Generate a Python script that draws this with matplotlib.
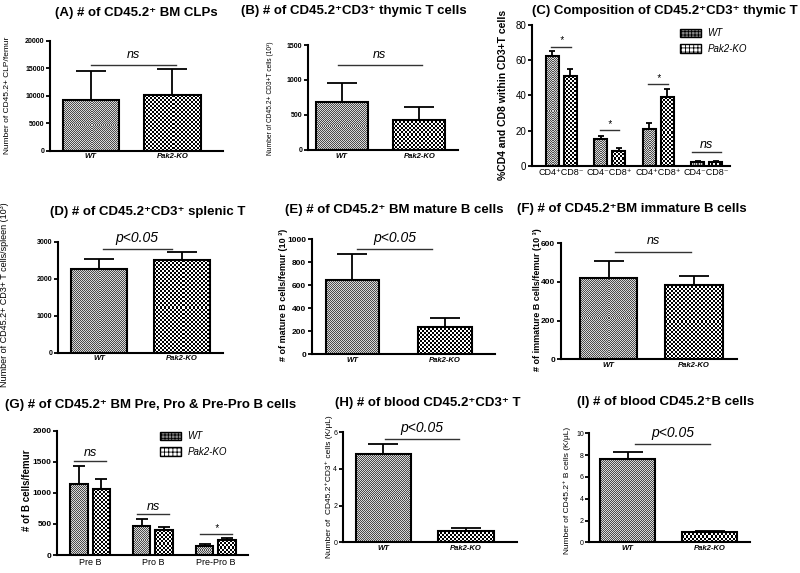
import matplotlib
matplotlib.use('Agg')
import matplotlib.pyplot as plt
from matplotlib.patches import Patch
import numpy as np

plt.rcParams['font.family'] = ['Liberation Sans', 'DejaVu Sans']
plt.rcParams['hatch.linewidth'] = 0.6

W, H = 800, 573

# ================= data =================
genotypes = ['WT', 'Pak2-KO']

# (A) BM CLPs
clp_mean = [9300, 10100]
clp_sem = [5200, 4700]
# (B) thymic T cells (10^3)
thy_mean = [690, 435]
thy_sem = [270, 175]
# (C) composition of thymic T (%)
comp_labels = ['CD4⁺CD8⁻', 'CD4⁻CD8⁺', 'CD4⁺CD8⁺', 'CD4⁻CD8⁻']
comp_wt = [62.6, 15.2, 20.7, 2.3]
comp_wt_sem = [2.4, 1.7, 3.4, 0.2]
comp_ko = [51.0, 8.5, 38.9, 2.3]
comp_ko_sem = [3.8, 1.4, 4.5, 0.2]
comp_sig = ['*', '*', '*', 'ns']
# (D) splenic T (10^3)
spl_mean = [2261, 2505]
spl_sem = [271, 225]
# (E) BM mature B (10^3)
matb_mean = [643, 240]
matb_sem = [229, 79]
# (F) BM immature B (10^3)
immb_mean = [419, 384]
immb_sem = [91, 49]
# (G) pre / pro / pre-pro B
bstage_labels = ['Pre B', 'Pro B', 'Pre-Pro B']
bstage_wt = [1142, 472, 145]
bstage_wt_sem = [290, 102, 27]
bstage_ko = [1056, 402, 241]
bstage_ko_sem = [161, 54, 27]
bstage_sig = ['ns', 'ns', '*']
# (H) blood T (K/uL)
bldt_mean = [4.82, 0.64]
bldt_sem = [0.54, 0.12]
# (I) blood B (K/uL)
bldb_mean = [7.61, 0.95]
bldb_sem = [0.71, 0.12]

# checkerboard fill: (square size px, dark, light)
WT_CHECK = (1, 0.30, 0.85)
KO_CHECK = (2, 0.0, 1.0)
BAR_EDGE = dict(facecolor='none', edgecolor='black', linewidth=1.5)

fig = plt.figure(figsize=(8, 5.73), dpi=100)


def add_ax(x0, y0, x1, y1):
    return fig.add_axes([x0 / W, 1 - y1 / H, (x1 - x0) / W, (y1 - y0) / H])


def checker(ax, bars, spec):
    # fill each bar with a checkerboard image clipped to the bar
    sq, lo, hi = spec
    pos = ax.get_position()
    xl, yl = ax.get_xlim(), ax.get_ylim()
    pxx = pos.width * W / (xl[1] - xl[0])
    pxy = pos.height * H / (yl[1] - yl[0])
    for r in bars:
        x0, y0 = r.get_x(), r.get_y()
        w, h = r.get_width(), r.get_height()
        nx = max(1, int(round(w * pxx / sq)))
        ny = max(1, int(round(h * pxy / sq)))
        ii, jj = np.indices((ny, nx))
        arr = np.where((ii + jj) % 2 == 0, lo, hi)
        im = ax.imshow(arr, cmap='gray', vmin=0, vmax=1, extent=[x0, x0 + w, y0, y0 + h],
                       interpolation='nearest', aspect='auto', zorder=1.5)
        im.set_clip_path(r)
    ax.set_xlim(*xl)
    ax.set_ylim(*yl)


def style_ax(ax, ymax, yticks, tfs, tweight='bold'):
    for s in ['top', 'right']:
        ax.spines[s].set_visible(False)
    for s in ['left', 'bottom']:
        ax.spines[s].set_linewidth(1.5)
    ax.set_ylim(0, ymax)
    ax.set_yticks(yticks)
    ax.tick_params(axis='y', direction='out', length=3, width=1.3, pad=1, labelsize=tfs)
    ax.tick_params(axis='x', length=0, pad=2)
    for t in ax.get_yticklabels():
        t.set_fontweight(tweight)


def fig_text(x, y, s, **kw):
    fig.text(x / W, 1 - y / H, s, **kw)


def sig(ax, x0, x1, y, text, fs, off=4):
    ax.plot([x0, x1], [y, y], color='#333333', lw=1.0, clip_on=False)
    ax.annotate(text, ((x0 + x1) / 2, y), xytext=(0, off), textcoords='offset points',
                ha='center', va='bottom', style='italic', fontsize=fs, annotation_clip=False)


def two_bar(ax, means, sems, xlim, width, cap):
    b1 = ax.bar(0, means[0], width, zorder=2, **BAR_EDGE)
    b2 = ax.bar(1, means[1], width, zorder=2, **BAR_EDGE)
    ax.errorbar([0, 1], means, yerr=[[0, 0], sems], fmt='none', ecolor='black',
                elinewidth=1.3, capsize=cap, capthick=1.3, zorder=1)
    ax.set_xlim(*xlim)
    ax.set_xticks([0, 1])
    ax.set_xticklabels(genotypes, fontsize=5.5, fontweight='bold', style='italic')
    return b1, b2


def grouped(ax, wt, wts, ko, kos, labels, xlim, width, off, cap, lfs):
    xs = list(range(len(wt)))
    b1 = ax.bar([x - off for x in xs], wt, width, zorder=2, **BAR_EDGE)
    b2 = ax.bar([x + off for x in xs], ko, width, zorder=2, **BAR_EDGE)
    ax.errorbar([x - off for x in xs], wt, yerr=[[0] * len(wt), wts], fmt='none', ecolor='black',
                elinewidth=1.3, capsize=cap, capthick=1.3, zorder=1)
    ax.errorbar([x + off for x in xs], ko, yerr=[[0] * len(ko), kos], fmt='none', ecolor='black',
                elinewidth=1.3, capsize=cap, capthick=1.3, zorder=1)
    ax.set_xlim(*xlim)
    ax.set_xticks(xs)
    ax.set_xticklabels(labels, fontsize=lfs)
    return b1, b2


def finish(ax, bars):
    checker(ax, bars[0], WT_CHECK)
    checker(ax, bars[1], KO_CHECK)


def legend(ax, x, y, fs):
    handles = [Patch(facecolor='#8a8a8a', hatch='+++++', edgecolor='black', linewidth=1.0),
               Patch(facecolor='white', hatch='++++', edgecolor='black', linewidth=1.0)]
    leg = ax.legend(handles, genotypes, loc='upper left', bbox_to_anchor=(x / W, 1 - y / H),
                    bbox_transform=fig.transFigure, frameon=False, fontsize=fs,
                    handlelength=2.2, handleheight=0.9, labelspacing=0.6, handletextpad=0.6,
                    borderpad=0, borderaxespad=0)
    for t in leg.get_texts():
        t.set_style('italic')


TITLE = dict(fontsize=9.5, fontweight='bold', ha='center', va='center')
YLAB = dict(rotation=90, ha='center', va='center')

# ---- (A) ----
ax = add_ax(50, 40.7, 223, 150.7)
bars = two_bar(ax, clp_mean, clp_sem, (-0.5, 1.62), 0.69, 11)
style_ax(ax, 20000, [0, 5000, 10000, 15000, 20000], 5)
finish(ax, bars)
sig(ax, 0.0, 1.04, 15580, 'ns', 9, off=3)
fig_text(136, 13, '(A) # of CD45.2⁺ BM CLPs', **TITLE)
fig_text(8, 95, 'Number of CD45.2+ CLP/femur', fontsize=6, **YLAB)

# ---- (B) ----
ax = add_ax(307.7, 45, 458, 150)
bars = two_bar(ax, thy_mean, thy_sem, (-0.44, 1.5), 0.67, 11)
style_ax(ax, 1500, [0, 500, 1000, 1500], 5)
finish(ax, bars)
sig(ax, -0.05, 1.03, 1214, 'ns', 9, off=3)
fig_text(354, 11, '(B) # of CD45.2⁺CD3⁺ thymic T cells', **TITLE)
fig_text(270, 98, 'Number of CD45.2+ CD3+T cells (10³)', fontsize=4.8, **YLAB)

# ---- (C) ----
ax = add_ax(532, 25, 730, 165.7)
bars = grouped(ax, comp_wt, comp_wt_sem, comp_ko, comp_ko_sem, comp_labels, (-0.6, 3.48), 0.27, 0.186, 2.5, 6.5)
style_ax(ax, 80, [0, 20, 40, 60, 80], 7, tweight='normal')
finish(ax, bars)
comp_lines = [67.7, 20.3, 46.3, 7.6]
for i, (lvl, s) in enumerate(zip(comp_lines, comp_sig)):
    if s == 'ns':
        sig(ax, i - 0.3, i + 0.3, lvl, s, 9, off=1)
    else:
        sig(ax, i - 0.2, i + 0.2, lvl, s, 7, off=1)
legend(ax, 680, 28, 7)
fig_text(665, 11, '(C) Composition of CD45.2⁺CD3⁺ thymic T', **TITLE)
fig_text(503, 95, '%CD4 and CD8 within CD3+T cells', fontsize=7.5, fontweight='bold', **YLAB)

# ---- (D) ----
ax = add_ax(58, 241.7, 223, 352.7)
bars = two_bar(ax, spl_mean, spl_sem, (-0.5, 1.5), 0.68, 11)
style_ax(ax, 3000, [0, 1000, 2000, 3000], 5)
finish(ax, bars)
sig(ax, 0.04, 0.88, 2793, 'p<0.05', 10, off=3)
fig_text(148, 212, '(D) # of CD45.2⁺CD3⁺ splenic T', **TITLE)
fig_text(5, 295, 'Number of CD45.2+ CD3+ T cells/spleen (10³)', fontsize=6.5, **YLAB)

# ---- (E) ----
ax = add_ax(311.7, 239.3, 495, 354.3)
bars = two_bar(ax, matb_mean, matb_sem, (-0.44, 1.54), 0.58, 11)
style_ax(ax, 1000, [0, 200, 400, 600, 800, 1000], 6)
finish(ax, bars)
sig(ax, 0.05, 0.86, 913, 'p<0.05', 10, off=3)
fig_text(394, 210, '(E) # of CD45.2⁺ BM mature B cells', **TITLE)
fig_text(283, 295, '# of mature B cells/femur (10 ³)', fontsize=6.5, fontweight='bold', **YLAB)

# ---- (F) ----
ax = add_ax(560.7, 243.3, 736.7, 359.3)
bars = two_bar(ax, immb_mean, immb_sem, (-0.56, 1.5), 0.67, 11)
style_ax(ax, 600, [0, 200, 400, 600], 6)
finish(ax, bars)
sig(ax, 0.08, 0.96, 557, 'ns', 9, off=3)
fig_text(632, 209, '(F) # of CD45.2⁺BM immature B cells', **TITLE)
fig_text(537, 300, '# of immature B cells/femur (10 ³)', fontsize=6.5, fontweight='bold', **YLAB)

# ---- (G) ----
ax = add_ax(57.3, 430.7, 248, 555)
bars = grouped(ax, bstage_wt, bstage_wt_sem, bstage_ko, bstage_ko_sem, bstage_labels,
               (-0.52, 2.51), 0.28, 0.18, 4, 6.5)
style_ax(ax, 2000, [0, 500, 1000, 1500, 2000], 6)
finish(ax, bars)
bstage_lines = [1517, 654, 338]
for i, (lvl, s) in enumerate(zip(bstage_lines, bstage_sig)):
    sig(ax, i - 0.25, i + 0.25, lvl, s, 9 if s == 'ns' else 7, off=1)
legend(ax, 160, 431, 7)
fig_text(151, 405, '(G) # of CD45.2⁺ BM Pre, Pro & Pre-Pro B cells', **TITLE)
fig_text(27, 490, '# of B cells/femur', fontsize=7, fontweight='bold', **YLAB)

# ---- (H) ----
ax = add_ax(342.7, 432.3, 516.7, 542.3)
bars = two_bar(ax, bldt_mean, bldt_sem, (-0.49, 1.61), 0.67, 11)
style_ax(ax, 6, [0, 2, 4, 6], 5, tweight='normal')
finish(ax, bars)
sig(ax, 0.02, 0.91, 5.62, 'p<0.05', 10, off=3)
fig_text(428, 403, '(H) # of blood CD45.2⁺CD3⁺ T', **TITLE)
fig_text(329, 487, 'Number of  CD45.2⁺CD3⁺ cells (K/μL)', fontsize=6, **YLAB)

# ---- (I) ----
ax = add_ax(589.3, 433.3, 750, 542.3)
bars = two_bar(ax, bldb_mean, bldb_sem, (-0.47, 1.49), 0.67, 11)
style_ax(ax, 10, [0, 2, 4, 6, 8, 10], 5, tweight='normal')
finish(ax, bars)
sig(ax, 0.09, 1.0, 8.99, 'p<0.05', 10, off=3)
fig_text(666, 402, '(I) # of blood CD45.2⁺B cells', **TITLE)
fig_text(567, 490, 'Number of CD45.2⁺ B cells (K/μL)', fontsize=6, **YLAB)

fig.savefig('out.png', dpi=100)
